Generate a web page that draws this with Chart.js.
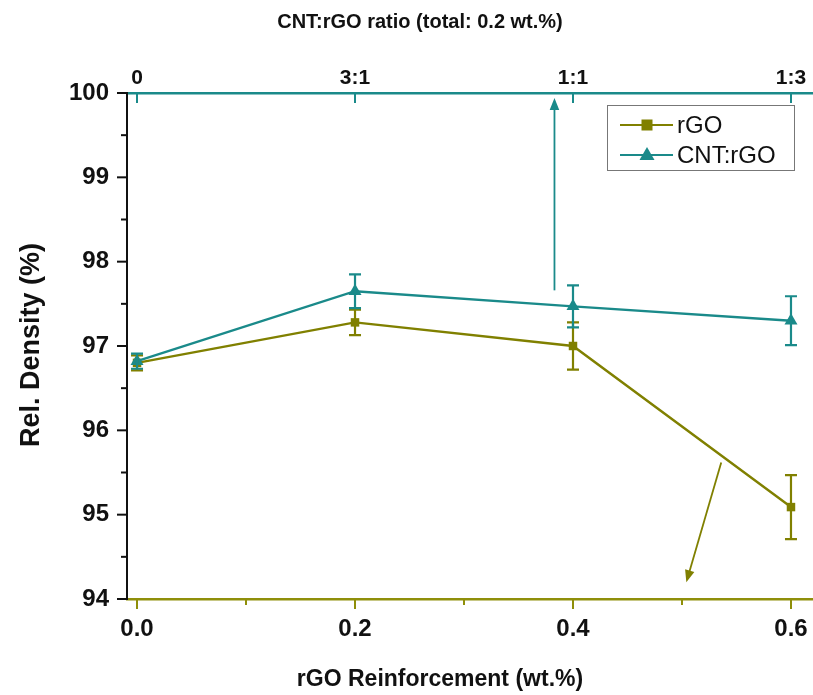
<!DOCTYPE html>
<html>
<head>
<meta charset="utf-8">
<script src="https://cdn.jsdelivr.net/npm/chart.js@4/dist/chart.umd.min.js"></script>
<style>
  html, body { margin: 0; padding: 0; background: #fff; }
  #wrap { width: 813px; height: 695px; position: relative; }
</style>
</head>
<body>
<div id="wrap"><canvas id="c" width="813" height="695"></canvas></div>
<script>
// ---- data ----
const xValues = [0.0, 0.2, 0.4, 0.6];
const rgoValues = [96.80, 97.28, 97.00, 95.09];
const rgoErrors = [0.09, 0.15, 0.28, 0.38];
const cntValues = [96.82, 97.65, 97.47, 97.30];
const cntErrors = [0.09, 0.20, 0.25, 0.29];
const bottomTickValues = [0.0, 0.2, 0.4, 0.6];
const bottomMinorTicks = [0.1, 0.3, 0.5];
const topTickLabels = ['0', '3:1', '1:1', '1:3'];
const yTickValues = [94, 95, 96, 97, 98, 99, 100];
const yMinorTicks = [94.5, 95.5, 96.5, 97.5, 98.5, 99.5];
// arrows (data coordinates): [x1, y1, x2, y2]
const cntArrow = [0.383, 97.66, 0.383, 99.94];
const rgoArrow = [0.536, 95.62, 0.504, 94.20];

const OLIVE = '#808000';
const OLIVE_AXIS = '#8f8f0a';
const TEAL = '#1a8a8a';
const FONT = '"Liberation Sans", Arial, sans-serif';

const seriesRGO = xValues.map((x, i) => ({ x, y: rgoValues[i] }));
const seriesCNT = xValues.map((x, i) => ({ x, y: cntValues[i] }));

function drawArrow(ctx, x1, y1, x2, y2, color, lw, head) {
  const ang = Math.atan2(y2 - y1, x2 - x1);
  ctx.save();
  ctx.strokeStyle = color; ctx.fillStyle = color; ctx.lineWidth = lw;
  ctx.beginPath();
  ctx.moveTo(x1, y1);
  ctx.lineTo(x2 - Math.cos(ang) * head * 0.8, y2 - Math.sin(ang) * head * 0.8);
  ctx.stroke();
  ctx.beginPath();
  ctx.moveTo(x2, y2);
  ctx.lineTo(x2 - head * Math.cos(ang) + head * 0.4 * Math.sin(ang), y2 - head * Math.sin(ang) - head * 0.4 * Math.cos(ang));
  ctx.lineTo(x2 - head * Math.cos(ang) - head * 0.4 * Math.sin(ang), y2 - head * Math.sin(ang) + head * 0.4 * Math.cos(ang));
  ctx.closePath();
  ctx.fill();
  ctx.restore();
}

const decorPlugin = {
  id: 'decor',
  beforeDatasetsDraw(chart) {
    const { ctx, scales } = chart;
    const xs = scales.x, ys = scales.y, xt = scales.xTop;
    const area = chart.chartArea;
    ctx.save();
    ctx.lineWidth = 2;
    // bottom axis ticks (outward)
    ctx.strokeStyle = OLIVE_AXIS;
    bottomTickValues.forEach(v => {
      const p = xs.getPixelForValue(v);
      ctx.beginPath(); ctx.moveTo(p, area.bottom); ctx.lineTo(p, area.bottom + 10); ctx.stroke();
    });
    bottomMinorTicks.forEach(v => {
      const p = xs.getPixelForValue(v);
      ctx.beginPath(); ctx.moveTo(p, area.bottom); ctx.lineTo(p, area.bottom + 6); ctx.stroke();
    });
    // top axis ticks (inward)
    ctx.strokeStyle = TEAL;
    bottomTickValues.forEach(v => {
      const p = xt.getPixelForValue(v);
      ctx.beginPath(); ctx.moveTo(p, area.top); ctx.lineTo(p, area.top + 10); ctx.stroke();
    });
    // left axis ticks (outward)
    ctx.strokeStyle = '#111';
    yTickValues.forEach(v => {
      const p = ys.getPixelForValue(v);
      ctx.beginPath(); ctx.moveTo(area.left, p); ctx.lineTo(area.left - 10, p); ctx.stroke();
    });
    yMinorTicks.forEach(v => {
      const p = ys.getPixelForValue(v);
      ctx.beginPath(); ctx.moveTo(area.left, p); ctx.lineTo(area.left - 6, p); ctx.stroke();
    });
    // arrows
    drawArrow(ctx, xs.getPixelForValue(cntArrow[0]), ys.getPixelForValue(cntArrow[1]),
      xs.getPixelForValue(cntArrow[2]), ys.getPixelForValue(cntArrow[3]), TEAL, 1.8, 12);
    drawArrow(ctx, xs.getPixelForValue(rgoArrow[0]), ys.getPixelForValue(rgoArrow[1]),
      xs.getPixelForValue(rgoArrow[2]), ys.getPixelForValue(rgoArrow[3]), OLIVE, 1.8, 12);
    ctx.restore();
  },
  afterDatasetsDraw(chart) {
    const { ctx, scales } = chart;
    const xs = scales.x, ys = scales.y;
    ctx.save();
    const bars = [[rgoValues, rgoErrors, OLIVE], [cntValues, cntErrors, TEAL]];
    bars.forEach(([vals, errs, col]) => {
      ctx.strokeStyle = col; ctx.lineWidth = 2.2;
      vals.forEach((v, i) => {
        const px = xs.getPixelForValue(xValues[i]);
        const top = ys.getPixelForValue(v + errs[i]);
        const bot = ys.getPixelForValue(v - errs[i]);
        ctx.beginPath(); ctx.moveTo(px, top); ctx.lineTo(px, bot);
        ctx.moveTo(px - 6, top); ctx.lineTo(px + 6, top);
        ctx.moveTo(px - 6, bot); ctx.lineTo(px + 6, bot);
        ctx.stroke();
      });
    });
    ctx.restore();
  },
  afterDraw(chart) {
    const { ctx } = chart;
    ctx.save();
    ctx.fillStyle = '#111';
    ctx.textAlign = 'center'; ctx.textBaseline = 'middle';
    ctx.font = 'bold 20px ' + FONT;
    ctx.fillText('CNT:rGO ratio (total: 0.2 wt.%)', 420, 22);
    ctx.font = 'bold 23px ' + FONT;
    ctx.fillText('rGO Reinforcement (wt.%)', 440, 680);
    ctx.translate(32, 345);
    ctx.rotate(-Math.PI / 2);
    ctx.font = 'bold 27px ' + FONT;
    ctx.fillText('Rel. Density (%)', 0, 0);
    ctx.restore();

    // legend
    const ds = chart.data.datasets;
    const lx = 607, ly = 105, lw = 187, lh = 65;
    ctx.save();
    ctx.fillStyle = '#fff';
    ctx.fillRect(lx, ly, lw, lh);
    ctx.strokeStyle = '#777'; ctx.lineWidth = 1;
    ctx.strokeRect(lx + 0.5, ly + 0.5, lw, lh);
    ds.forEach((d, i) => {
      const cy = ly + 20 + i * 30;
      ctx.strokeStyle = d.borderColor; ctx.lineWidth = 2.2;
      ctx.beginPath(); ctx.moveTo(lx + 13, cy); ctx.lineTo(lx + 66, cy); ctx.stroke();
      ctx.fillStyle = d.backgroundColor;
      const mx = lx + 40;
      if (d.pointStyle === 'rect') {
        ctx.fillRect(mx - 5.5, cy - 5.5, 11, 11);
      } else {
        ctx.beginPath(); ctx.moveTo(mx, cy - 8); ctx.lineTo(mx + 7.5, cy + 5); ctx.lineTo(mx - 7.5, cy + 5); ctx.closePath(); ctx.fill();
      }
      ctx.fillStyle = '#111';
      ctx.font = '24px ' + FONT;
      ctx.textAlign = 'left'; ctx.textBaseline = 'middle';
      ctx.fillText(d.label, lx + 70, cy + 1);
    });
    ctx.restore();
  }
};

function noSidePad(s) { s.paddingLeft = 0; s.paddingRight = 0; }

new Chart(document.getElementById('c'), {
  type: 'line',
  data: {
    datasets: [
      { label: 'rGO', data: seriesRGO, borderColor: OLIVE, backgroundColor: OLIVE,
        borderWidth: 2.4, pointStyle: 'rect', pointRadius: 6, pointBorderWidth: 0,
        xAxisID: 'x', yAxisID: 'y', order: 1, tension: 0 },
      { label: 'CNT:rGO', data: seriesCNT, borderColor: TEAL, backgroundColor: TEAL,
        borderWidth: 2.4, pointStyle: 'triangle', pointRadius: 7.5, pointBorderWidth: 0,
        xAxisID: 'x', yAxisID: 'y', order: 0, tension: 0 }
    ]
  },
  options: {
    responsive: false,
    animation: false,
    layout: { padding: 0, autoPadding: false },
    plugins: { legend: { display: false }, tooltip: { enabled: false }, title: { display: false } },
    scales: {
      x: {
        type: 'linear', position: 'bottom', min: -0.0092, max: 0.6202,
        afterFit(s) { s.height = 96; noSidePad(s); },
        afterBuildTicks(s) { s.ticks = bottomTickValues.map(v => ({ value: v })); },
        grid: { display: false, drawTicks: false },
        border: { display: true, color: OLIVE_AXIS, width: 2.5 },
        ticks: { padding: 16, color: '#111', font: { family: FONT, size: 24, weight: 'bold' },
          callback: v => v.toFixed(1), maxRotation: 0, autoSkip: false }
      },
      xTop: {
        type: 'linear', position: 'top', min: -0.0092, max: 0.6202,
        afterFit(s) { s.height = 93; noSidePad(s); },
        afterBuildTicks(s) { s.ticks = bottomTickValues.map(v => ({ value: v })); },
        grid: { display: false, drawTicks: false },
        border: { display: true, color: TEAL, width: 2.5 },
        ticks: { padding: 2, color: '#111', font: { family: FONT, size: 21, weight: 'bold' },
          callback: (v) => topTickLabels[bottomTickValues.findIndex(t => Math.abs(t - v) < 1e-6)],
          maxRotation: 0, autoSkip: false }
      },
      y: {
        type: 'linear', position: 'left', min: 94, max: 100,
        afterFit(s) { s.width = 127; s.paddingTop = 0; s.paddingBottom = 0; },
        afterBuildTicks(s) { s.ticks = yTickValues.map(v => ({ value: v })); },
        grid: { display: false, drawTicks: false },
        border: { display: true, color: '#111', width: 2 },
        ticks: { padding: 18, color: '#111', font: { family: FONT, size: 24, weight: 'bold' },
          callback: v => String(v) }
      }
    }
  },
  plugins: [decorPlugin]
});
</script>
</body>
</html>
